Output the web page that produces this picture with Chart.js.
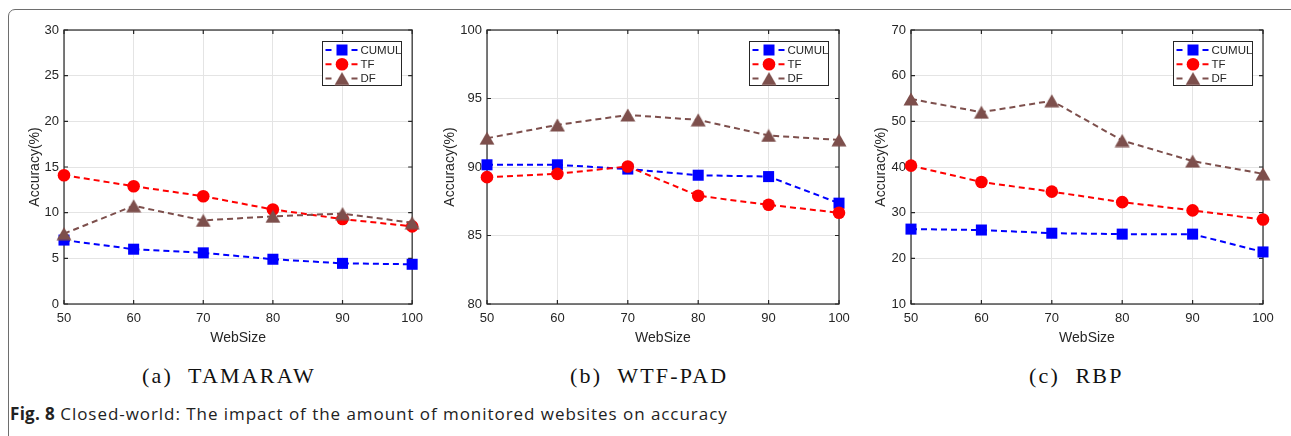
<!DOCTYPE html>
<html>
<head>
<meta charset="utf-8">
<script src="https://cdn.jsdelivr.net/npm/chart.js@4.4.1/dist/chart.umd.min.js"></script>
<style>
  html, body { margin: 0; padding: 0; background: #fff; }
  body { width: 1291px; height: 436px; position: relative; overflow: hidden; }
  #frame { position: absolute; left: 8px; top: 9px; width: 1290px; height: 500px;
           border: 1.3px solid #6e6e6e; border-radius: 7px; box-sizing: border-box; }
  .panel { position: absolute; top: 0; height: 350px; }
  .cap { position: absolute; top: 363px; font-family: "Liberation Serif", serif; font-size: 22px;
         color: #111; white-space: pre; letter-spacing: 2.2px; }
  #fig { position: absolute; left: 10px; top: 402px; font-family: "Open Sans", sans-serif;
         font-size: 17px; color: #222; white-space: pre; letter-spacing: 0.95px; }
  #fig b { font-weight: 700; letter-spacing: 0.3px; }
</style>
</head>
<body>
<div id="frame"></div>
<div class="panel" style="left:0px;width:430px"><canvas id="c1" width="430" height="350"></canvas></div>
<div class="panel" style="left:430px;width:430px"><canvas id="c2" width="430" height="350"></canvas></div>
<div class="panel" style="left:860px;width:431px"><canvas id="c3" width="431" height="350"></canvas></div>
<div class="cap" id="capA" style="left:142px">(a)  TAMARAW</div>
<div class="cap" id="capB" style="left:570px">(b)  WTF-PAD</div>
<div class="cap" id="capC" style="left:1029px">(c)  RBP</div>
<div id="fig"><b>Fig. 8</b> Closed-world: The impact of the amount of monitored websites on accuracy</div>
<script>
// ---- data ----
const webSizes = [50, 60, 70, 80, 90, 100];
const seriesNames = ['CUMUL', 'TF', 'DF'];

const tamarawCUMUL = [7.0, 6.0, 5.6, 4.9, 4.45, 4.35];
const tamarawTF    = [14.1, 12.9, 11.8, 10.35, 9.3, 8.5];
const tamarawDF    = [7.7, 10.75, 9.15, 9.6, 9.9, 8.9];

const wtfpadCUMUL = [90.16, 90.16, 89.85, 89.4, 89.3, 87.36];
const wtfpadTF    = [89.26, 89.5, 90.04, 87.9, 87.24, 86.66];
const wtfpadDF    = [92.1, 93.07, 93.8, 93.44, 92.3, 91.98];

const rbpCUMUL = [26.4, 26.2, 25.5, 25.3, 25.3, 21.4];
const rbpTF    = [40.3, 36.7, 34.6, 32.3, 30.5, 28.5];
const rbpDF    = [54.9, 52.0, 54.5, 45.8, 41.3, 38.5];

const tamarawTicks = [0, 5, 10, 15, 20, 25, 30];
const wtfpadTicks  = [80, 85, 90, 95, 100];
const rbpTicks     = [10, 20, 30, 40, 50, 60, 70];

// ---- styles ----
const BLUE = '#0000ff', RED = '#ff0000', BROWN = '#7d4f4c';
const AXIS = '#262626';
const SANS = '"Liberation Sans", Arial, sans-serif';

function makeTriangle(color) {
  const c = document.createElement('canvas');
  c.width = 16; c.height = 14;
  const g = c.getContext('2d');
  g.fillStyle = color;
  g.beginPath(); g.moveTo(8, 0.5); g.lineTo(15.5, 13.5); g.lineTo(0.5, 13.5); g.closePath(); g.fill();
  return c;
}
const triBrown = makeTriangle(BROWN);

const seriesStyle = [
  { color: BLUE, pointStyle: 'rect', radius: 7.8 },
  { color: RED, pointStyle: 'circle', radius: 6.3 },
  { color: BROWN, pointStyle: triBrown, radius: 8 }
];

function toPts(arr) { return webSizes.map((x, i) => ({ x: x, y: arr[i] })); }

const boxPlugin = {
  id: 'matlabBox',
  beforeDatasetsDraw(chart) {
    const { ctx, chartArea: a, scales } = chart;
    ctx.save();
    ctx.strokeStyle = AXIS; ctx.lineWidth = 1.2;
    ctx.strokeRect(a.left, a.top, a.right - a.left, a.bottom - a.top);
    const tl = 4;
    ctx.beginPath();
    scales.y.ticks.forEach(t => {
      const y = scales.y.getPixelForValue(t.value);
      ctx.moveTo(a.left, y); ctx.lineTo(a.left + tl, y);
      ctx.moveTo(a.right, y); ctx.lineTo(a.right - tl, y);
    });
    scales.x.ticks.forEach(t => {
      const x = scales.x.getPixelForValue(t.value);
      ctx.moveTo(x, a.bottom); ctx.lineTo(x, a.bottom - tl);
      ctx.moveTo(x, a.top); ctx.lineTo(x, a.top + tl);
    });
    ctx.stroke();
    ctx.restore();
  },
  afterDatasetsDraw(chart) {
    const { ctx, chartArea: a } = chart;
    const w = 79, h = 44;
    const x0 = Math.round(a.right - 11 - w) + 0.5, y0 = Math.round(a.top + 11) + 0.5;
    ctx.save();
    ctx.fillStyle = '#fff';
    ctx.fillRect(x0, y0, w, h);
    ctx.strokeStyle = AXIS; ctx.lineWidth = 1;
    ctx.strokeRect(x0, y0, w, h);
    ctx.font = '11.5px ' + SANS;
    ctx.textBaseline = 'middle';
    seriesNames.forEach((name, i) => {
      const st = seriesStyle[i];
      const y = y0 + 8.5 + i * 14.3;
      ctx.strokeStyle = st.color; ctx.lineWidth = 2;
      ctx.beginPath();
      ctx.moveTo(x0 + 3, y); ctx.lineTo(x0 + 9, y);
      ctx.moveTo(x0 + 29, y); ctx.lineTo(x0 + 35, y);
      ctx.stroke();
      const cx = x0 + 19.5;
      ctx.fillStyle = st.color;
      if (st.pointStyle === 'rect') {
        ctx.fillRect(cx - 5.5, y - 5.5, 11, 11);
      } else if (st.pointStyle === 'circle') {
        ctx.beginPath(); ctx.arc(cx, y, st.radius, 0, Math.PI * 2); ctx.fill();
      } else {
        ctx.drawImage(st.pointStyle, cx - 8, y - 7);
      }
      ctx.fillStyle = AXIS;
      ctx.textAlign = 'left';
      ctx.fillText(name, x0 + 38, y + 0.5);
    });
    ctx.restore();
  }
};

function makeChart(id, data3, yTicks, yAxisWidth, rightPad, titlePad) {
  const datasets = data3.map((arr, i) => ({
    label: seriesNames[i],
    data: toPts(arr),
    borderColor: seriesStyle[i].color,
    backgroundColor: seriesStyle[i].color,
    borderWidth: 2,
    borderDash: [6, 4],
    pointStyle: seriesStyle[i].pointStyle,
    pointRadius: seriesStyle[i].radius,
    pointBorderWidth: 0,
    pointBackgroundColor: seriesStyle[i].color,
    pointBorderColor: seriesStyle[i].color,
    tension: 0,
    clip: false,
    order: 3 - i
  }));
  return new Chart(document.getElementById(id), {
    type: 'line',
    data: { datasets },
    options: {
      responsive: false,
      animation: false,
      events: [],
      layout: { padding: { top: 30, right: rightPad, left: 0, bottom: 0 } },
      plugins: { legend: { display: false }, tooltip: { enabled: false } },
      scales: {
        x: {
          type: 'linear', min: webSizes[0], max: webSizes[webSizes.length - 1],
          afterBuildTicks: s => { s.ticks = webSizes.map(v => ({ value: v })); },
          afterFit: s => { s.height = 46; },
          grid: { color: '#e4e4e4', lineWidth: 1, drawTicks: false },
          border: { display: false },
          ticks: { font: { family: SANS, size: 13 }, color: AXIS, padding: 7, maxRotation: 0 },
          title: { display: true, text: 'WebSize', font: { family: SANS, size: 14 }, color: AXIS,
                   padding: { top: 0, bottom: 3 } }
        },
        y: {
          type: 'linear', min: yTicks[0], max: yTicks[yTicks.length - 1],
          afterBuildTicks: s => { s.ticks = yTicks.map(v => ({ value: v })); },
          afterFit: s => { s.width = yAxisWidth; },
          grid: { color: '#e4e4e4', lineWidth: 1, drawTicks: false },
          border: { display: false },
          ticks: { font: { family: SANS, size: 13 }, color: AXIS, padding: 5 },
          title: { display: true, text: 'Accuracy(%)', font: { family: SANS, size: 14 }, color: AXIS,
                   padding: { top: titlePad, bottom: 0 } }
        }
      }
    },
    plugins: [boxPlugin]
  });
}

makeChart('c1', [tamarawCUMUL, tamarawTF, tamarawDF], tamarawTicks, 64, 13, 26.6);
makeChart('c2', [wtfpadCUMUL, wtfpadTF, wtfpadDF], wtfpadTicks, 57, 21, 12);
makeChart('c3', [rbpCUMUL, rbpTF, rbpDF], rbpTicks, 51, 28, 12.6);
</script>
</body>
</html>
